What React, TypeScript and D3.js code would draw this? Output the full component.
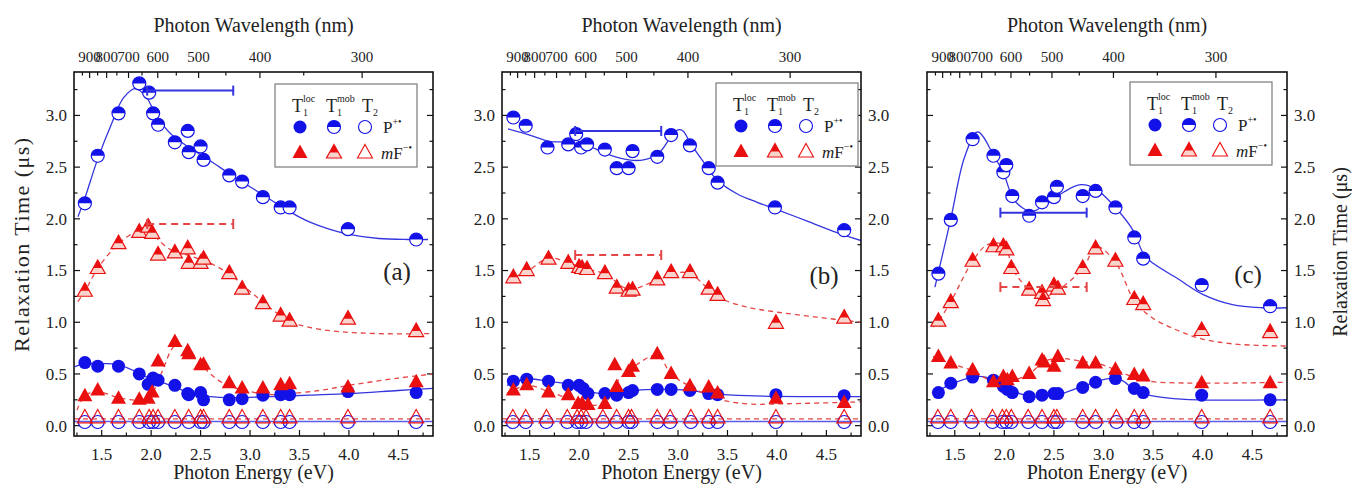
import React from 'react';
import * as d3 from 'd3';

type Pt = [number, number];

const W = 1352;
const H = 488;
const TOP = 72;
const BOTTOM = 436;
const BLUE = '#1212e8';
const RED = '#ea1010';
const BLUE_LINE = '#3535e0';
const RED_LINE = '#e64545';
const PINK = '#f8d4cc';
const TXT = { fontFamily: "'Liberation Serif'" };

const energyDomain: Pt = [1.22, 4.85];
const timeDomain: Pt = [-0.1, 3.42];
const energyTicks = [1.5, 2.0, 2.5, 3.0, 3.5, 4.0, 4.5];
const energyMinor = [1.25, 1.75, 2.25, 2.75, 3.25, 3.75, 4.25, 4.75];
const timeTicks = [0, 0.5, 1.0, 1.5, 2.0, 2.5, 3.0];
const timeMinor = [0.25, 0.75, 1.25, 1.75, 2.25, 2.75, 3.25];
const wavelengthTicks = [900, 800, 700, 600, 500, 400, 300];
const wavelengthMinor = [950, 850, 750, 650, 550, 450, 350];

// energies used for the T2 points (same set in every panel)
const t2Energies = [1.33, 1.46, 1.67, 1.88, 1.98, 2.02, 2.07, 2.24, 2.38, 2.50, 2.53, 2.79, 2.92, 3.13, 3.31, 3.40, 3.99, 4.68];
const t2Circles = [0.035, 0.035, 0.035, 0.035, 0.035, 0.035, 0.035, 0.035, 0.035, 0.035, 0.035, 0.035, 0.035, 0.035, 0.035, 0.035, 0.035, 0.035];
const t2Triangles = [0.075, 0.075, 0.075, 0.075, 0.075, 0.075, 0.075, 0.075, 0.075, 0.075, 0.075, 0.075, 0.075, 0.075, 0.075, 0.075, 0.075, 0.075];
const t2FitP: Pt[] = [[1.22, 0.04], [4.85, 0.04]];
const t2FitF: Pt[] = [[1.22, 0.065], [4.85, 0.065]];
const barRange: Pt = [1.96, 2.83];

// panel (a)
const aMobP: Pt[] = [[1.33, 2.15], [1.46, 2.61], [1.67, 3.02], [1.88, 3.31], [1.98, 3.22], [2.02, 3.02], [2.07, 2.91], [2.24, 2.74], [2.37, 2.85], [2.38, 2.645], [2.50, 2.70], [2.53, 2.57], [2.79, 2.42], [2.92, 2.36], [3.13, 2.21], [3.31, 2.11], [3.40, 2.11], [3.99, 1.90], [4.68, 1.80]];
const aMobF: Pt[] = [[1.33, 1.30], [1.46, 1.52], [1.67, 1.76], [1.88, 1.87], [1.97, 1.92], [2.01, 1.86], [2.07, 1.65], [2.24, 1.67], [2.37, 1.71], [2.38, 1.57], [2.50, 1.57], [2.53, 1.61], [2.79, 1.47], [2.92, 1.32], [3.13, 1.18], [3.31, 1.06], [3.40, 1.01], [3.99, 1.03], [4.68, 0.91]];
const aLocP: Pt[] = [[1.33, 0.61], [1.46, 0.575], [1.67, 0.575], [1.88, 0.50], [1.97, 0.40], [2.02, 0.46], [2.07, 0.44], [2.24, 0.39], [2.37, 0.31], [2.38, 0.30], [2.50, 0.32], [2.53, 0.25], [2.79, 0.25], [2.92, 0.26], [3.13, 0.295], [3.31, 0.30], [3.40, 0.30], [3.99, 0.33], [4.68, 0.32]];
const aLocF: Pt[] = [[1.33, 0.285], [1.46, 0.34], [1.67, 0.26], [1.88, 0.25], [1.97, 0.26], [2.01, 0.32], [2.07, 0.62], [2.24, 0.81], [2.37, 0.72], [2.38, 0.69], [2.50, 0.585], [2.53, 0.59], [2.79, 0.41], [2.92, 0.36], [3.13, 0.36], [3.31, 0.39], [3.40, 0.40], [3.99, 0.37], [4.68, 0.42]];
const aFitMobP: Pt[] = [[1.26, 2.02], [1.33, 2.2], [1.46, 2.58], [1.6, 2.92], [1.72, 3.17], [1.84, 3.26], [1.95, 3.18], [2.05, 3.0], [2.2, 2.82], [2.4, 2.68], [2.6, 2.56], [2.8, 2.43], [3.0, 2.31], [3.2, 2.19], [3.4, 2.07], [3.6, 1.97], [3.8, 1.9], [4.0, 1.85], [4.3, 1.81], [4.6, 1.8], [4.8, 1.8]];
const aFitMobF: Pt[] = [[1.26, 1.2], [1.33, 1.3], [1.46, 1.52], [1.67, 1.76], [1.85, 1.88], [1.97, 1.92], [2.07, 1.8], [2.2, 1.7], [2.4, 1.64], [2.6, 1.57], [2.8, 1.46], [3.0, 1.3], [3.2, 1.14], [3.4, 1.01], [3.6, 0.95], [3.9, 0.91], [4.3, 0.89], [4.85, 0.89]];
const aFitLocP: Pt[] = [[1.23, 0.57], [1.33, 0.6], [1.5, 0.6], [1.67, 0.59], [1.85, 0.52], [2.0, 0.45], [2.1, 0.42], [2.25, 0.37], [2.4, 0.31], [2.6, 0.28], [2.8, 0.27], [3.2, 0.28], [3.6, 0.295], [4.0, 0.31], [4.5, 0.34], [4.85, 0.36]];
const aFitLocF: Pt[] = [[1.25, 0.15], [1.33, 0.29], [1.46, 0.33], [1.67, 0.27], [1.9, 0.25], [2.0, 0.3], [2.1, 0.5], [2.25, 0.78], [2.38, 0.72], [2.5, 0.6], [2.6, 0.5], [2.75, 0.4], [3.0, 0.33], [3.2, 0.3], [3.4, 0.31], [3.7, 0.34], [4.0, 0.39], [4.5, 0.46], [4.85, 0.5]];
const aBars = [3.24, 1.95];

// panel (b)
const bMobP: Pt[] = [[1.335, 2.98], [1.46, 2.90], [1.68, 2.69], [1.89, 2.72], [1.97, 2.82], [2.02, 2.69], [2.08, 2.72], [2.26, 2.67], [2.38, 2.49], [2.50, 2.49], [2.54, 2.655], [2.79, 2.60], [2.93, 2.81], [3.12, 2.71], [3.31, 2.49], [3.40, 2.35], [3.98, 2.11], [4.68, 1.89]];
const bMobF: Pt[] = [[1.335, 1.43], [1.47, 1.50], [1.69, 1.61], [1.89, 1.57], [2.0, 1.53], [2.03, 1.52], [2.08, 1.51], [2.26, 1.47], [2.38, 1.33], [2.50, 1.30], [2.54, 1.31], [2.79, 1.41], [2.93, 1.48], [3.12, 1.48], [3.31, 1.32], [3.40, 1.26], [3.99, 0.99], [4.68, 1.04]];
const bLocP: Pt[] = [[1.335, 0.43], [1.47, 0.45], [1.69, 0.43], [1.89, 0.39], [2.0, 0.39], [2.04, 0.36], [2.09, 0.31], [2.26, 0.31], [2.38, 0.295], [2.50, 0.32], [2.54, 0.34], [2.79, 0.35], [2.93, 0.35], [3.12, 0.34], [3.31, 0.31], [3.40, 0.30], [3.99, 0.30], [4.68, 0.29]];
const bLocF: Pt[] = [[1.335, 0.34], [1.47, 0.39], [1.69, 0.32], [1.89, 0.295], [1.99, 0.21], [2.03, 0.21], [2.09, 0.20], [2.26, 0.21], [2.36, 0.585], [2.38, 0.375], [2.50, 0.52], [2.54, 0.57], [2.79, 0.69], [2.93, 0.50], [3.12, 0.38], [3.31, 0.37], [3.40, 0.31], [3.99, 0.26], [4.68, 0.22]];
const bFitMobP: Pt[] = [[1.28, 2.87], [1.5, 2.81], [1.7, 2.75], [1.9, 2.74], [2.1, 2.70], [2.3, 2.62], [2.5, 2.57], [2.65, 2.57], [2.8, 2.63], [2.92, 2.78], [3.0, 2.86], [3.05, 2.85], [3.12, 2.74], [3.25, 2.56], [3.4, 2.37], [3.6, 2.24], [3.8, 2.16], [4.0, 2.09], [4.3, 1.98], [4.6, 1.87], [4.85, 1.79]];
const bFitMobF: Pt[] = [[1.27, 1.41], [1.47, 1.49], [1.69, 1.62], [1.88, 1.58], [2.05, 1.52], [2.26, 1.47], [2.5, 1.32], [2.79, 1.41], [3.0, 1.48], [3.12, 1.47], [3.31, 1.32], [3.41, 1.24], [3.68, 1.15], [3.99, 1.1], [4.4, 1.05], [4.85, 1.0]];
const bFitLocP: Pt[] = [[1.27, 0.39], [1.47, 0.45], [1.69, 0.43], [1.89, 0.40], [2.1, 0.33], [2.26, 0.31], [2.54, 0.34], [2.79, 0.35], [3.12, 0.34], [3.35, 0.31], [3.7, 0.29], [4.85, 0.28]];
const bFitLocF: Pt[] = [[1.27, 0.31], [1.47, 0.39], [1.69, 0.33], [1.89, 0.26], [2.0, 0.21], [2.26, 0.22], [2.38, 0.42], [2.54, 0.56], [2.79, 0.68], [2.93, 0.5], [3.12, 0.38], [3.4, 0.26], [3.7, 0.21], [4.0, 0.21], [4.85, 0.23]];
const bBars = [2.85, 1.65];

// panel (c)
const cMobP: Pt[] = [[1.335, 1.47], [1.46, 1.99], [1.68, 2.77], [1.89, 2.61], [1.99, 2.45], [2.02, 2.52], [2.08, 2.22], [2.25, 2.03], [2.38, 2.16], [2.50, 2.21], [2.53, 2.31], [2.79, 2.22], [2.92, 2.27], [3.12, 2.11], [3.31, 1.82], [3.40, 1.615], [3.99, 1.36], [4.68, 1.155]];
const cMobF: Pt[] = [[1.335, 1.01], [1.46, 1.19], [1.68, 1.59], [1.89, 1.73], [1.99, 1.73], [2.02, 1.70], [2.07, 1.52], [2.25, 1.31], [2.38, 1.28], [2.39, 1.21], [2.50, 1.35], [2.54, 1.32], [2.79, 1.52], [2.92, 1.71], [3.12, 1.59], [3.31, 1.22], [3.40, 1.17], [3.99, 0.92], [4.68, 0.90]];
const cLocP: Pt[] = [[1.335, 0.32], [1.46, 0.41], [1.68, 0.47], [1.89, 0.44], [1.99, 0.38], [2.03, 0.35], [2.08, 0.32], [2.25, 0.28], [2.38, 0.295], [2.50, 0.31], [2.54, 0.31], [2.79, 0.37], [2.92, 0.42], [3.12, 0.455], [3.31, 0.36], [3.40, 0.32], [3.99, 0.295], [4.68, 0.25]];
const cLocF: Pt[] = [[1.335, 0.665], [1.46, 0.60], [1.68, 0.535], [1.89, 0.42], [1.99, 0.47], [2.03, 0.44], [2.08, 0.47], [2.25, 0.50], [2.38, 0.63], [2.40, 0.61], [2.50, 0.57], [2.54, 0.665], [2.79, 0.60], [2.92, 0.60], [3.12, 0.54], [3.31, 0.49], [3.40, 0.475], [3.99, 0.41], [4.68, 0.41]];
const cFitMobP: Pt[] = [[1.30, 1.34], [1.46, 2.0], [1.6, 2.6], [1.73, 2.84], [1.89, 2.62], [2.0, 2.42], [2.1, 2.18], [2.27, 2.07], [2.4, 2.13], [2.6, 2.26], [2.77, 2.33], [2.92, 2.29], [3.12, 2.11], [3.29, 1.9], [3.41, 1.65], [3.5, 1.57], [3.75, 1.42], [4.0, 1.27], [4.3, 1.17], [4.6, 1.14], [4.85, 1.14]];
const cFitMobF: Pt[] = [[1.28, 0.955], [1.335, 1.01], [1.46, 1.2], [1.68, 1.59], [1.83, 1.75], [1.99, 1.75], [2.1, 1.49], [2.25, 1.32], [2.4, 1.25], [2.54, 1.31], [2.79, 1.52], [2.93, 1.73], [3.12, 1.58], [3.31, 1.21], [3.48, 1.05], [3.75, 0.92], [3.99, 0.84], [4.31, 0.79], [4.85, 0.77]];
const cFitLocP: Pt[] = [[1.28, 0.31], [1.46, 0.40], [1.68, 0.47], [1.81, 0.47], [1.99, 0.39], [2.1, 0.33], [2.3, 0.28], [2.54, 0.30], [2.79, 0.38], [3.05, 0.455], [3.18, 0.44], [3.31, 0.35], [3.48, 0.29], [3.82, 0.255], [4.85, 0.25]];
const cFitLocF: Pt[] = [[1.28, 0.67], [1.46, 0.6], [1.68, 0.53], [1.9, 0.42], [2.05, 0.43], [2.25, 0.5], [2.4, 0.62], [2.55, 0.65], [2.8, 0.62], [2.95, 0.6], [3.12, 0.54], [3.3, 0.47], [3.5, 0.425], [4.85, 0.42]];
const cBars = [2.06, 1.34];

const R = 6.5;
const TRI = 'M0,-8.5L7.5,5L-7.5,5Z';
const TRI_TOP = 'M0,-8.5L4.4,-0.5L-4.4,-0.5Z';
const HALF_C = `M${-R},0A${R},${R} 0 0 1 ${R},0Z`;

type Kind = 'locP' | 'mobP' | 't2P' | 'locF' | 'mobF' | 't2F';

function Marker({ kind, x, y }: { kind: Kind; x: number; y: number }) {
  const t = `translate(${x},${y})`;
  switch (kind) {
    case 'locP':
      return <circle cx={x} cy={y} r={R} fill={BLUE} />;
    case 'mobP':
      return (
        <g transform={t}>
          <circle r={R} fill="#fff" stroke={BLUE} strokeWidth={1.2} />
          <path d={HALF_C} fill={BLUE} />
        </g>
      );
    case 't2P':
      return <circle cx={x} cy={y} r={R} fill="none" stroke={BLUE} strokeWidth={1.1} />;
    case 'locF':
      return <path transform={t} d={TRI} fill={RED} />;
    case 'mobF':
      return (
        <g transform={t}>
          <path d={TRI} fill={PINK} stroke={RED} strokeWidth={1.2} />
          <path d={TRI_TOP} fill={RED} />
        </g>
      );
    default:
      return <path transform={t} d={TRI} fill="none" stroke={RED} strokeWidth={1.1} />;
  }
}

const panels = [
  { id: 'a', x0: 74, x1: 433, left: true, right: false, legend: [275, 84], letter: '(a)', letterPos: [397, 280],
    mobP: aMobP, mobF: aMobF, locP: aLocP, locF: aLocF, fits: [aFitMobP, aFitMobF, aFitLocP, aFitLocF], bars: aBars },
  { id: 'b', x0: 502, x1: 861, left: true, right: true, legend: [716, 83], letter: '(b)', letterPos: [824, 284],
    mobP: bMobP, mobF: bMobF, locP: bLocP, locF: bLocF, fits: [bFitMobP, bFitMobF, bFitLocP, bFitLocF], bars: bBars },
  { id: 'c', x0: 927, x1: 1287, left: false, right: true, legend: [1130, 82], letter: '(c)', letterPos: [1248, 283],
    mobP: cMobP, mobF: cMobF, locP: cLocP, locF: cLocF, fits: [cFitMobP, cFitMobF, cFitLocP, cFitLocF], bars: cBars },
];

function Legend({ lx, ly }: { lx: number; ly: number }) {
  const hy = ly + 28;
  const r1 = ly + 43;
  const r2 = ly + 69;
  return (
    <g fill="#222">
      <rect x={lx} y={ly} width={142} height={83} fill="#fff" stroke="#7a7a7a" strokeWidth={1.2} />
      <text style={TXT} x={lx + 17} y={hy} fontSize={18}>T</text>
      <text style={TXT} x={lx + 28} y={hy - 10} fontSize={10}>loc</text>
      <text style={TXT} x={lx + 28} y={hy + 4} fontSize={10}>1</text>
      <text style={TXT} x={lx + 51} y={hy} fontSize={18}>T</text>
      <text style={TXT} x={lx + 62} y={hy - 10} fontSize={10}>mob</text>
      <text style={TXT} x={lx + 62} y={hy + 4} fontSize={10}>1</text>
      <text style={TXT} x={lx + 87} y={hy} fontSize={18}>T</text>
      <text style={TXT} x={lx + 98} y={hy + 4} fontSize={10}>2</text>
      <Marker kind="locP" x={lx + 25} y={r1} />
      <Marker kind="mobP" x={lx + 59} y={r1} />
      <Marker kind="t2P" x={lx + 90} y={r1} />
      <Marker kind="locF" x={lx + 25} y={r2} />
      <Marker kind="mobF" x={lx + 59} y={r2} />
      <Marker kind="t2F" x={lx + 90} y={r2} />
      <text style={TXT} x={lx + 108} y={r1 + 6} fontSize={17}>P<tspan fontSize={10} dy={-8}>+•</tspan></text>
      <text style={TXT} x={lx + 106} y={r2 + 6} fontSize={17}><tspan fontStyle="italic">m</tspan>F<tspan fontSize={10} dy={-8}>−•</tspan></text>
    </g>
  );
}

function Panel({ p }: { p: typeof panels[number] }) {
  const x = d3.scaleLinear().domain(energyDomain).range([p.x0, p.x1]);
  const y = d3.scaleLinear().domain(timeDomain).range([BOTTOM, TOP]);
  const line = d3.line<Pt>().x(d => x(d[0])).y(d => y(d[1])).curve(d3.curveCatmullRom.alpha(0.5));
  const xw = (nm: number) => x(1240 / nm);
  const clipId = `clip-${p.id}`;
  const [mobPFit, mobFFit, locPFit, locFFit] = p.fits;
  const t2P: Pt[] = t2Energies.map((e, i) => [e, t2Circles[i]]);
  const t2F: Pt[] = t2Energies.map((e, i) => [e, t2Triangles[i]]);
  const cx = (p.x0 + p.x1) / 2;
  const bx0 = x(barRange[0]);
  const bx1 = x(barRange[1]);

  return (
    <g>
      <defs>
        <clipPath id={clipId}>
          <rect x={p.x0} y={TOP} width={p.x1 - p.x0} height={BOTTOM - TOP} />
        </clipPath>
      </defs>

      {/* ticks */}
      <g stroke="#111" strokeWidth={1.2}>
        {energyTicks.map(v => (
          <line key={'eb' + v} x1={x(v)} x2={x(v)} y1={BOTTOM} y2={BOTTOM - 6} />
        ))}
        {energyMinor.map(v => (
          <line key={'em' + v} x1={x(v)} x2={x(v)} y1={BOTTOM} y2={BOTTOM - 3.5} />
        ))}
        {wavelengthTicks.map(v => (
          <line key={'wt' + v} x1={xw(v)} x2={xw(v)} y1={TOP} y2={TOP + 6} />
        ))}
        {wavelengthMinor.map(v => (
          <line key={'wm' + v} x1={xw(v)} x2={xw(v)} y1={TOP} y2={TOP + 3.5} />
        ))}
        {timeTicks.map(v => (
          <g key={'tt' + v}>
            <line x1={p.x0} x2={p.x0 + 6} y1={y(v)} y2={y(v)} />
            <line x1={p.x1} x2={p.x1 - 6} y1={y(v)} y2={y(v)} />
          </g>
        ))}
        {timeMinor.map(v => (
          <g key={'tm' + v}>
            <line x1={p.x0} x2={p.x0 + 3.5} y1={y(v)} y2={y(v)} />
            <line x1={p.x1} x2={p.x1 - 3.5} y1={y(v)} y2={y(v)} />
          </g>
        ))}
      </g>

      {/* tick labels */}
      <g fill="#222">
        {energyTicks.map(v => (
          <text style={TXT} key={'el' + v} x={x(v)} y={460} fontSize={17} textAnchor="middle">{v.toFixed(1)}</text>
        ))}
        {wavelengthTicks.map(v => (
          <text style={TXT} key={'wl' + v} x={xw(v)} y={62} fontSize={15} textAnchor="middle">{v}</text>
        ))}
        {p.left && timeTicks.map(v => (
          <text style={TXT} key={'yl' + v} x={p.x0 - 7} y={y(v)} dy="0.35em" fontSize={17} textAnchor="end">{v.toFixed(1)}</text>
        ))}
        {p.right && timeTicks.map(v => (
          <text style={TXT} key={'yr' + v} x={p.x1 + 7} y={y(v)} dy="0.35em" fontSize={17}>{v.toFixed(1)}</text>
        ))}
        <text style={TXT} x={cx} y={32} fontSize={20} textAnchor="middle">Photon Wavelength (nm)</text>
        <text style={TXT} x={cx} y={479} fontSize={20} textAnchor="middle">Photon Energy (eV)</text>
      </g>

      {/* fitted curves */}
      <g clipPath={`url(#${clipId})`} fill="none">
        <path d={line(t2FitP) || ''} stroke={BLUE_LINE} strokeWidth={1.6} opacity={0.8} />
        <path d={line(t2FitF) || ''} stroke={RED_LINE} strokeWidth={1.3} strokeDasharray="5,4" />
        <path d={line(mobPFit) || ''} stroke={BLUE_LINE} strokeWidth={1.3} />
        <path d={line(locPFit) || ''} stroke={BLUE_LINE} strokeWidth={1.3} />
        <path d={line(mobFFit) || ''} stroke={RED_LINE} strokeWidth={1.3} strokeDasharray="5,4" />
        <path d={line(locFFit) || ''} stroke={RED_LINE} strokeWidth={1.3} strokeDasharray="5,4" />
      </g>

      {/* markers */}
      <g>
        {t2P.map((d, i) => <Marker key={'t2p' + i} kind="t2P" x={x(d[0])} y={y(d[1])} />)}
        {t2F.map((d, i) => <Marker key={'t2f' + i} kind="t2F" x={x(d[0])} y={y(d[1])} />)}
        {p.locP.map((d, i) => <Marker key={'lp' + i} kind="locP" x={x(d[0])} y={y(d[1])} />)}
        {p.locF.map((d, i) => <Marker key={'lf' + i} kind="locF" x={x(d[0])} y={y(d[1])} />)}
        {p.mobF.map((d, i) => <Marker key={'mf' + i} kind="mobF" x={x(d[0])} y={y(d[1])} />)}
        {p.mobP.map((d, i) => <Marker key={'mp' + i} kind="mobP" x={x(d[0])} y={y(d[1])} />)}
      </g>

      {/* excitation bandwidth bars */}
      <g fill="none" strokeWidth={2}>
        <g stroke={BLUE_LINE}>
          <line x1={bx0} x2={bx1} y1={y(p.bars[0])} y2={y(p.bars[0])} />
          <line x1={bx0} x2={bx0} y1={y(p.bars[0]) - 5} y2={y(p.bars[0]) + 5} />
          <line x1={bx1} x2={bx1} y1={y(p.bars[0]) - 5} y2={y(p.bars[0]) + 5} />
        </g>
        <g stroke={RED_LINE}>
          <line x1={bx0} x2={bx1} y1={y(p.bars[1])} y2={y(p.bars[1])} strokeDasharray="7,5" />
          <line x1={bx0} x2={bx0} y1={y(p.bars[1]) - 5} y2={y(p.bars[1]) + 5} />
          <line x1={bx1} x2={bx1} y1={y(p.bars[1]) - 5} y2={y(p.bars[1]) + 5} />
        </g>
      </g>

      <rect x={p.x0} y={TOP} width={p.x1 - p.x0} height={BOTTOM - TOP} fill="none" stroke="#111" strokeWidth={1.6} />
      <Legend lx={p.legend[0]} ly={p.legend[1]} />
      <text style={TXT} x={p.letterPos[0]} y={p.letterPos[1]} fontSize={25} textAnchor="middle" fill="#222">{p.letter}</text>
    </g>
  );
}

export default function App() {
  return (
    <svg width={W} height={H} style={{ position: 'absolute', left: 0, top: 0, background: '#fff' }}>
      <rect width={W} height={H} fill="#fff" />
      {panels.map(p => <Panel key={p.id} p={p} />)}
      <text style={TXT} transform="translate(29,245) rotate(-90)" fontSize={22} textLength={214} lengthAdjust="spacing" textAnchor="middle" fill="#222">Relaxation Time (μs)</text>
      <text style={TXT} transform="translate(1347,252) rotate(-90)" fontSize={20} textAnchor="middle" fill="#222">Relaxation Time (μs)</text>
    </svg>
  );
}
